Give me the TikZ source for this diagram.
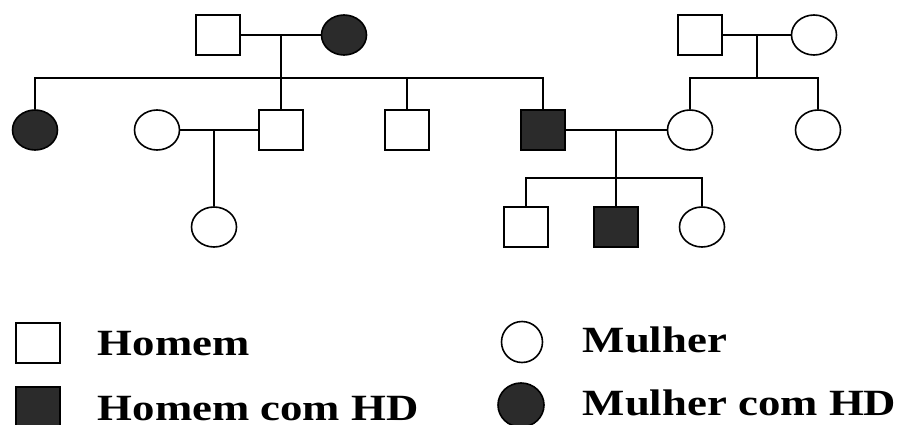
\documentclass[tikz,border=0pt]{standalone}
\usepackage{fontspec}
\setmainfont{Liberation Serif}
\usetikzlibrary{shapes.geometric}
\definecolor{hd}{HTML}{2B2B2B}
\begin{document}
\begin{tikzpicture}[x=1pt,y=-1pt,
  line width=1.6pt,
  male/.style={draw,rectangle,minimum width=44pt,minimum height=40pt,inner sep=0pt},
  female/.style={draw,ellipse,minimum width=45pt,minimum height=40pt,inner sep=0pt},
  affected/.style={fill=hd},
  legtext/.style={anchor=base west,inner sep=0pt,font=\fontsize{37}{37}\selectfont\bfseries}]
\useasboundingbox (0,0) rectangle (909,425);

% first generation, left couple
\node[male] (gf1) at (218,35) {};
\node[female,affected] (gm1) at (344,35) {};
% first generation, right couple
\node[male] (gf2) at (700,35) {};
\node[female] (gm2) at (814,35) {};

% second generation
\node[female,affected] (d1) at (35,130) {};
\node[female] (w1) at (157,130) {};
\node[male] (s1) at (281,130) {};
\node[male] (s2) at (407,130) {};
\node[male,affected] (s3) at (543,130) {};
\node[female] (w2) at (690,130) {};
\node[female] (w3) at (818,130) {};

% third generation
\node[female] (c1) at (214,227) {};
\node[male] (g1) at (526,227) {};
\node[male,affected] (g2) at (616,227) {};
\node[female] (g3) at (702,227) {};

% marriage and descent points
\coordinate (m1) at (281,35);
\coordinate (m2) at (757,35);
\coordinate (m3) at (214,130);
\coordinate (m4) at (616,130);
\coordinate (sib1) at (281,78);
\coordinate (sib2) at (757,78);
\coordinate (sib3) at (616,178);

% left family
\draw (gf1.east) -- (gm1.west);
\draw (m1) -- (sib1);
\draw (d1.north) |- (s3.north |- sib1) -- (s3.north);
\draw (s1.north) -- (s1.north |- sib1);
\draw (s2.north) -- (s2.north |- sib1);

% right family
\draw (gf2.east) -- (gm2.west);
\draw (m2) -- (sib2);
\draw (w2.north) |- (w3.north |- sib2) -- (w3.north);

% couples of the second generation
\draw (w1.east) -- (s1.west);
\draw (m3) -- (c1.north);
\draw (s3.east) -- (w2.west);
\draw (m4) -- (g2.north);
\draw (g1.north) |- (g3.north |- sib3) -- (g3.north);

% legend
\node[male] (lm) at (38,343) {};
\node[male,affected] (lma) at (38,407) {};
\node[female,minimum width=41pt,minimum height=41pt] (lf) at (522,342) {};
\node[female,affected,minimum width=46pt,minimum height=44pt] (lfa) at (521,405) {};
\node[legtext] (tm) at (97,355) {\scalebox{1.21}[1]{Homem}};
\node[legtext] (tma) at (97,420) {\scalebox{1.21}[1]{Homem com HD}};
\node[legtext] (tf) at (582,352) {\scalebox{1.21}[1]{Mulher}};
\node[legtext] (tfa) at (582,415) {\scalebox{1.21}[1]{Mulher com HD}};
\end{tikzpicture}
\end{document}
